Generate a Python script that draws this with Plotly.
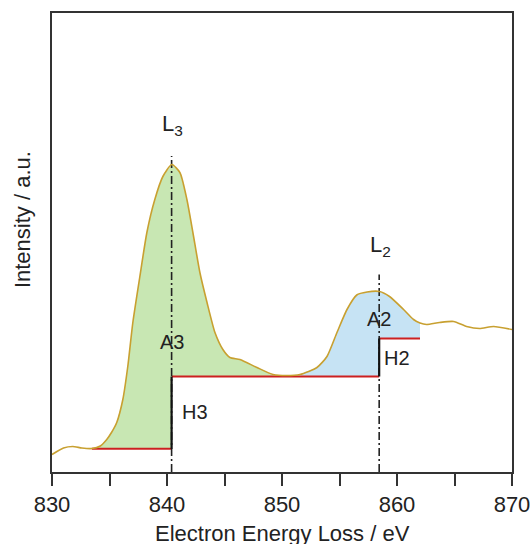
import plotly.graph_objects as go

# ---- data ----
energy = [830.0, 831.0, 831.8, 832.6, 833.46, 834.2, 834.76, 835.2, 835.63, 836.16, 836.59,
          837.03, 837.64, 838.25, 838.94, 839.64, 840.42, 841.12, 841.73, 842.25,
          842.86, 843.47, 844.17, 844.86, 845.47, 846.34, 847.82, 849.22, 850.4,
          851.56, 853.04, 853.91, 854.78, 855.65, 856.5, 857.4, 858.48, 859.35,
          860.57, 861.44, 862.0, 862.57, 863.7, 864.92, 866.05, 867.18, 868.4, 870.0]
intensity = [0.175, 0.24, 0.255, 0.24, 0.235, 0.26, 0.325, 0.40, 0.495, 0.725, 1.055,
             1.495, 1.955, 2.395, 2.725, 2.955, 3.075, 2.995, 2.725, 2.395,
             1.995, 1.70, 1.395, 1.225, 1.145, 1.125, 1.045, 0.975, 0.965,
             0.975, 1.045, 1.155, 1.395, 1.625, 1.77, 1.80, 1.805, 1.755,
             1.625, 1.525, 1.49, 1.475, 1.495, 1.505, 1.455, 1.435, 1.455, 1.425]

edge_L3 = 840.4          # L3 edge position (eV)
edge_L2 = 858.45         # L2 edge position (eV)
bg_start = 833.46        # start of background window
fill_split = 850.4       # where the A3 area ends and A2 begins
bg_end = 862.0           # end of H2 step
step_levels = [0.232, 0.955, 1.335]   # pre-edge, after L3, after L2
marker_top = [3.16, 1.975]            # top of dash-dot markers L3, L2

curve_color = "#c8a030"
green = "#c8e7b3"
blue = "#c6e3f4"
red = "#cc2020"
ink = "#222222"

fig = go.Figure()

# A3 area (green)
seg3 = [(e, v) for e, v in zip(energy, intensity) if bg_start <= e <= fill_split]
gx = [p[0] for p in seg3] + [fill_split, edge_L3, edge_L3, bg_start]
gy = [p[1] for p in seg3] + [step_levels[1], step_levels[1], step_levels[0], step_levels[0]]
fig.add_trace(go.Scatter(x=gx, y=gy, fill="toself", fillcolor=green, mode="lines",
                         line=dict(width=0), hoverinfo="skip", showlegend=False))

# A2 area (blue)
seg2 = [(e, v) for e, v in zip(energy, intensity) if fill_split <= e <= bg_end]
bx = [p[0] for p in seg2] + [bg_end, edge_L2, edge_L2, fill_split]
by = [p[1] for p in seg2] + [step_levels[2], step_levels[2], step_levels[1], step_levels[1]]
fig.add_trace(go.Scatter(x=bx, y=by, fill="toself", fillcolor=blue, mode="lines",
                         line=dict(width=0), hoverinfo="skip", showlegend=False))

# red step background
for x0, x1, lv in [(bg_start, edge_L3, step_levels[0]),
                   (edge_L3, edge_L2, step_levels[1]),
                   (edge_L2, bg_end, step_levels[2])]:
    fig.add_trace(go.Scatter(x=[x0, x1], y=[lv, lv], mode="lines",
                             line=dict(color=red, width=2), showlegend=False))

# dash-dot edge markers
for xe, top in zip([edge_L3, edge_L2], marker_top):
    fig.add_trace(go.Scatter(x=[xe, xe], y=[0, top], mode="lines",
                             line=dict(color=ink, width=1.6, dash="8px,3px,2px,3px"),
                             showlegend=False))

# solid vertical steps
fig.add_trace(go.Scatter(x=[edge_L3, edge_L3], y=[step_levels[0], step_levels[1]], mode="lines",
                         line=dict(color="#111111", width=2.2), showlegend=False))
fig.add_trace(go.Scatter(x=[edge_L2, edge_L2], y=[step_levels[1], step_levels[2]], mode="lines",
                         line=dict(color="#111111", width=2.2), showlegend=False))

# spectrum
fig.add_trace(go.Scatter(x=energy, y=intensity, mode="lines",
                         line=dict(color=curve_color, width=1.6, shape="spline", smoothing=0.6),
                         showlegend=False))

font_family = "Arial, Liberation Sans, sans-serif"
labels = [("L<sub>3</sub>", 840.5, 3.47, 22), ("L<sub>2</sub>", 858.6, 2.26, 22),
          ("A3", 840.4, 1.30, 20), ("A2", 858.45, 1.53, 20),
          ("H3", 842.42, 0.60, 20), ("H2", 859.99, 1.14, 20)]
for txt, xx, yy, sz in labels:
    fig.add_annotation(x=xx, y=yy, text=txt, showarrow=False,
                       font=dict(family=font_family, size=sz, color=ink))

fig.add_annotation(xref="paper", yref="paper", x=0.5, y=-0.134, yanchor="middle",
                   text="Electron Energy Loss / eV", showarrow=False,
                   font=dict(family=font_family, size=22, color=ink))
fig.add_annotation(xref="paper", yref="paper", x=-0.064, y=0.55, xanchor="center",
                   textangle=-90, text="Intensity / a.u.", showarrow=False,
                   font=dict(family=font_family, size=22, color=ink))

tick_vals = [830, 835, 840, 845, 850, 855, 860, 865, 870]
tick_text = ["830", "", "840", "", "850", "", "860", "", "870"]

fig.update_layout(
    width=531, height=544,
    margin=dict(l=52, r=19, t=13, b=72, autoexpand=False),
    paper_bgcolor="white", plot_bgcolor="white",
    xaxis=dict(range=[830, 870], tickvals=tick_vals, ticktext=tick_text,
               ticks="outside", ticklen=12, tickwidth=1.5, tickcolor="#333",
               showline=True, linecolor="#333", linewidth=1.5, mirror=True,
               showgrid=False, zeroline=False, automargin=False,
               tickfont=dict(family=font_family, size=22, color=ink)),
    yaxis=dict(range=[0, 4.59], showticklabels=False, ticks="",
               showline=True, linecolor="#333", linewidth=1.5, mirror=True,
               showgrid=False, zeroline=False, automargin=False),
)

fig.write_html("out.html", config={"displayModeBar": False},
               post_script="document.body.style.margin='0';document.body.style.padding='0';"
                           "document.body.style.overflow='hidden';")
